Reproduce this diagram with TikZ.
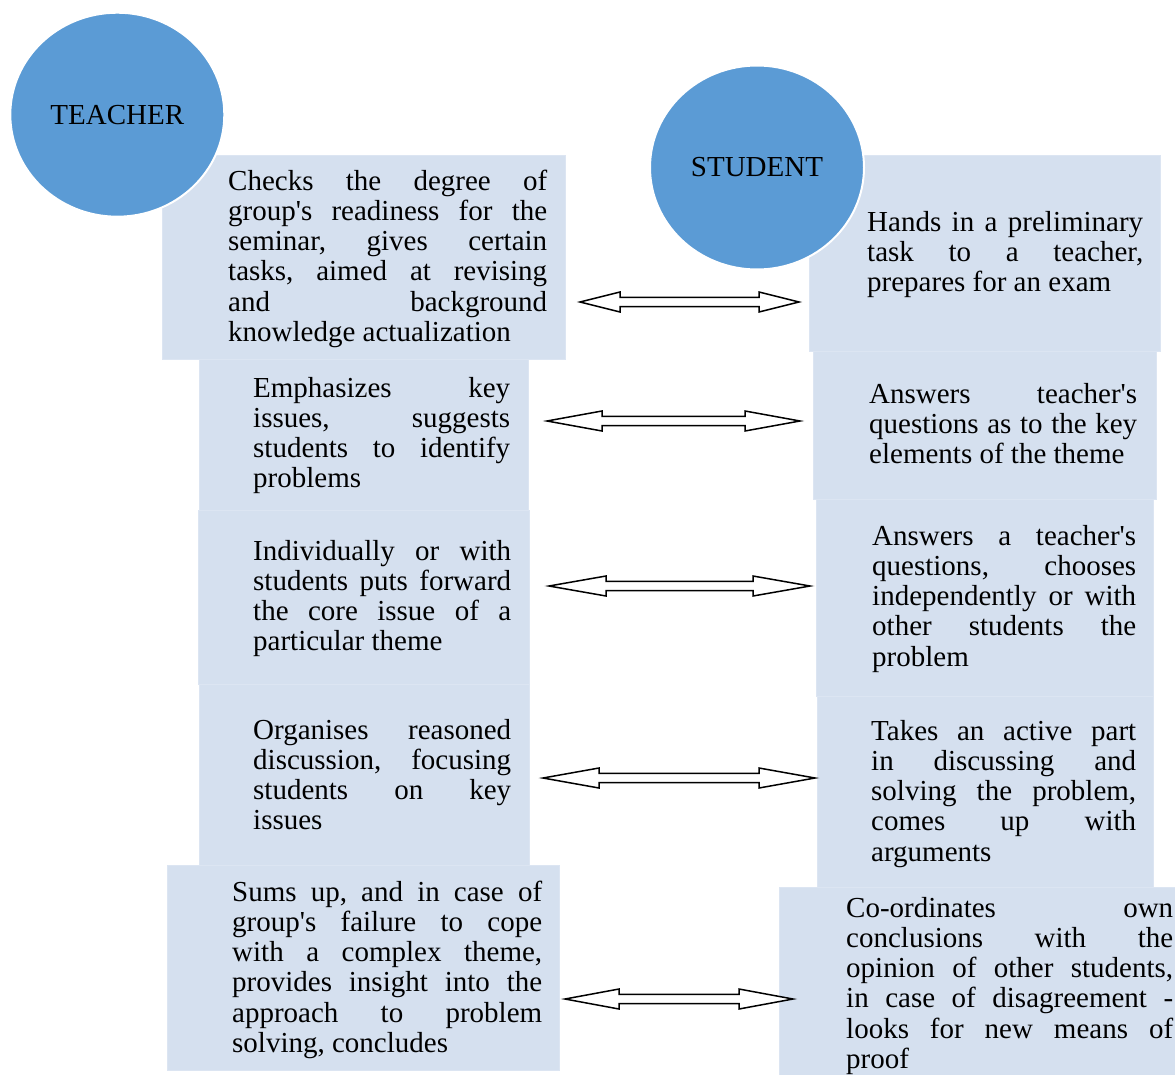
\documentclass[tikz,border=0pt]{standalone}
\usepackage{fontspec}
\usetikzlibrary{calc,shapes.geometric}
\newfontfamily\tnr{Liberation Serif}
\definecolor{circblue}{HTML}{5B9BD5}
\definecolor{boxblue}{HTML}{D5E0EF}
\definecolor{boxedge}{HTML}{DCE5F2}
% justified line and last (natural) line
\newcommand\jl[1]{\hbox to\hsize{\frenchspacing\spaceskip=.25em plus 1fil\relax#1}}
\newcommand\lastln[1]{\hbox{\frenchspacing#1}}
\newcommand\dbarrow[3]{%
  \draw[dbl] (#1) -- ($(#1)+(#3,-10)$) -- ($(#1)+(#3,-4.6)$) -- ($(#2)+(-#3,-4.6)$)
    -- ($(#2)+(-#3,-10)$) -- (#2) -- ($(#2)+(-#3,10)$) -- ($(#2)+(-#3,4.6)$)
    -- ($(#1)+(#3,4.6)$) -- ($(#1)+(#3,10)$) -- cycle;}
\begin{document}
\begin{tikzpicture}[x=1pt,y=-1pt,
  panel/.style={fill=boxblue,draw=boxedge,line width=1pt},
  txt/.style={font=\tnr\fontsize{29}{30.3}\selectfont,inner sep=0pt,anchor=base west,text=black},
  role/.style={ellipse,fill=circblue,draw=white,line width=2pt,minimum width=214pt,
    minimum height=204pt,inner sep=0pt,font=\tnr\fontsize{29}{30}\selectfont},
  dbl/.style={draw=black,fill=white,line width=1.5pt,line join=miter}]
\useasboundingbox (0,0) rectangle (1175,1074);
\begin{scope}
\clip (0,0) rectangle (1175,1074);
% teacher column
\path[panel] (162,155) rectangle (565,359);
\path[panel] (199,359) rectangle (528,510);
\path[panel] (198,510) rectangle (529,684);
\path[panel] (199,684) rectangle (529,865);
\path[panel] (167,865) rectangle (559,1070);
% student column
\path[panel] (809,155) rectangle (1160,351);
\path[panel] (813,351) rectangle (1156,499);
\path[panel] (816,499) rectangle (1153,696);
\path[panel] (817,696) rectangle (1153,887);
\path[panel] (779,887) rectangle (1190,1090);
\end{scope}
% circles
\node[role] (teacher) at (117.3,114.7) {TEACHER};
\node[role] (student) at (757,167.5) {STUDENT};
% teacher texts
\node[txt] (t1) at (228,190) {\vtop{\hsize=319pt
  \jl{Checks the degree of}\jl{group's readiness for the}\jl{seminar, gives certain}%
  \jl{tasks, aimed at revising}\jl{and background}\lastln{knowledge actualization}}};
\node[txt] (t2) at (253,397) {\vtop{\hsize=257pt
  \jl{Emphasizes key}\jl{issues, suggests}\jl{students to identify}\lastln{problems}}};
\node[txt] (t3) at (253,560) {\vtop{\hsize=258pt
  \jl{Individually or with}\jl{students puts forward}\jl{the core issue of a}\lastln{particular theme}}};
\node[txt] (t4) at (253,739) {\vtop{\hsize=258pt
  \jl{Organises reasoned}\jl{discussion, focusing}\jl{students on key}\lastln{issues}}};
\node[txt] (t5) at (232,901) {\vtop{\hsize=310pt
  \jl{Sums up, and in case of}\jl{group's failure to cope}\jl{with a complex theme,}%
  \jl{provides insight into the}\jl{approach to problem}\lastln{solving, concludes}}};
% student texts
\node[txt] (s1) at (867,231) {\vtop{\hsize=276pt
  \jl{Hands in a preliminary}\jl{task to a teacher,}\lastln{prepares for an exam}}};
\node[txt] (s2) at (869,403) {\vtop{\hsize=268pt
  \jl{Answers teacher's}\jl{questions as to the key}\lastln{elements of the theme}}};
\node[txt] (s3) at (872,545) {\vtop{\hsize=264pt
  \jl{Answers a teacher's}\jl{questions, chooses}\jl{independently or with}%
  \jl{other students the}\lastln{problem}}};
\node[txt] (s4) at (871,740) {\vtop{\hsize=265pt
  \jl{Takes an active part}\jl{in discussing and}\jl{solving the problem,}%
  \jl{comes up with}\lastln{arguments}}};
\node[txt] (s5) at (846,917) {\vtop{\hsize=327pt
  \jl{Co-ordinates own}\jl{conclusions with the}\jl{opinion of other students,}%
  \jl{in case of disagreement -}\jl{looks for new means of}\lastln{proof}}};
% arrows
\coordinate (a1l) at (580,302);  \coordinate (a1r) at (799,302);
\coordinate (a2l) at (547,421);  \coordinate (a2r) at (800,421);
\coordinate (a3l) at (549,586);  \coordinate (a3r) at (810,586);
\coordinate (a4l) at (543,778);  \coordinate (a4r) at (815,778);
\coordinate (a5l) at (565,999);  \coordinate (a5r) at (793,999);
\dbarrow{a1l}{a1r}{40}
\dbarrow{a2l}{a2r}{55}
\dbarrow{a3l}{a3r}{57}
\dbarrow{a4l}{a4r}{56}
\dbarrow{a5l}{a5r}{54}
\end{tikzpicture}
\end{document}
